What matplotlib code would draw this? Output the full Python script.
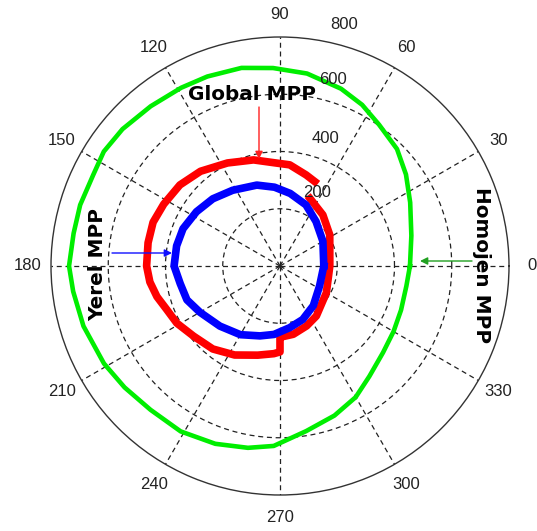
import numpy as np
import matplotlib
matplotlib.use("Agg")
import matplotlib.pyplot as plt

# ---- data (angle in degrees, radius in data units) ----
green_theta = [0, 13, 26, 36, 45, 55, 63, 71, 82, 92, 101, 111, 119, 129, 139, 147, 154,
               163, 171, 180, 187, 197, 209, 218, 228, 239, 250, 260, 268, 279, 290, 300,
               309, 320, 330, 340, 351, 360]
green_r = [454, 471, 506, 544, 578, 603, 632, 655, 679, 692, 705, 709, 712, 718, 729, 734, 726,
           730, 730, 737, 728, 718, 703, 689, 676, 674, 661, 645, 629, 584, 556, 529,
           496, 470, 458, 450, 447, 454]

red_theta = [67.6, 74, 84.5, 93, 104, 117, 130, 141, 152, 161, 170, 180, 187, 194, 201, 209,
             219, 231, 243, 256, 266, 270, 270, 271, 281, 294, 306, 330, 360, 392, 410, 426]
red_r = [319, 331, 355, 361, 382, 404, 432, 450, 460, 469, 468, 466, 458, 443, 424, 412,
         389, 373, 349, 321, 307, 300, 247, 248, 243, 229, 216, 187, 174, 205, 233, 258]

blue_theta = [0, 30, 51, 67, 82, 94, 106, 122, 135, 147, 159, 169, 180, 190, 200, 210, 225,
              240, 254, 265, 279, 293, 310, 333, 360]
blue_r = [153, 173, 200, 232, 256, 276, 294, 312, 332, 348, 363, 368, 370, 354, 346, 323, 297,
          277, 254, 240, 218, 203, 181, 155, 153]

angle_ticks = list(range(0, 360, 30))
radial_ticks = [200, 400, 600, 800]
r_max = 800

W, H = 537, 531
fig = plt.figure(figsize=(W / 100, H / 100), dpi=100)
cx, cy, R = 280, 266, 229
ax = fig.add_axes([(cx - R) / W, (H - cy - R) / H, 2 * R / W, 2 * R / H], projection='polar')
ax.set_ylim(0, r_max)
ax.set_rticks(radial_ticks[:-1])
ax.set_yticklabels([])
ax.set_thetagrids(angle_ticks, [''] * len(angle_ticks))
ax.grid(True, color='#222222', linestyle=(0, (4, 3)), linewidth=0.9)
ax.spines['polar'].set_color('#333333')
ax.spines['polar'].set_linewidth(1.0)
ax.tick_params(length=0)

ax.plot(np.deg2rad(green_theta), green_r, color='#00ee00', linewidth=3.3, solid_joinstyle='round', zorder=3)
ax.plot(np.deg2rad(red_theta), red_r, color='#ff0000', linewidth=5.5, solid_joinstyle='round', zorder=3)
ax.plot(np.deg2rad(blue_theta), blue_r, color='#0000ff', linewidth=5.5, solid_joinstyle='round', zorder=3)

tick_font = dict(family=['Liberation Sans', 'DejaVu Sans'], fontsize=12, color='#222222')
for a in angle_ticks:
    ax.text(np.deg2rad(a), 1.1 * r_max, str(a), ha='center', va='center', clip_on=False, **tick_font)

rlab_theta = [63.1, 70.6, 74.1, 75.0]
rlab_r = [286, 474, 676, 872]
for t, rr, v in zip(rlab_theta, rlab_r, radial_ticks):
    ax.text(np.deg2rad(t), rr, str(v), ha='center', va='center', clip_on=False, zorder=4, **tick_font)

lab_font = dict(family=['DejaVu Sans'], fontsize=14.4, fontweight='bold', color='black')
fig.text(252 / W, 1 - 95 / H, 'Global MPP', ha='center', va='center', **lab_font)
fig.text(98 / W, 1 - 264 / H, 'Yerel MPP', ha='center', va='center', rotation=90, **lab_font)
fig.text(482 / W, 1 - 265 / H, 'Homojen MPP', ha='center', va='center', rotation=-90, **lab_font)

def arrow(x0, y0, x1, y1, c):
    fig.add_artist(matplotlib.patches.FancyArrowPatch(
        (x0 / W, 1 - y0 / H), (x1 / W, 1 - y1 / H), transform=fig.transFigure,
        arrowstyle='-|>', mutation_scale=11, color=c, linewidth=1.0, shrinkA=0, shrinkB=0))

arrow(259, 107, 259, 159, '#ff2020')
arrow(112, 253, 172, 253, '#1010ff')
arrow(472, 261, 420, 261, '#20a020')

fig.savefig('out.png', dpi=100, facecolor='white')
